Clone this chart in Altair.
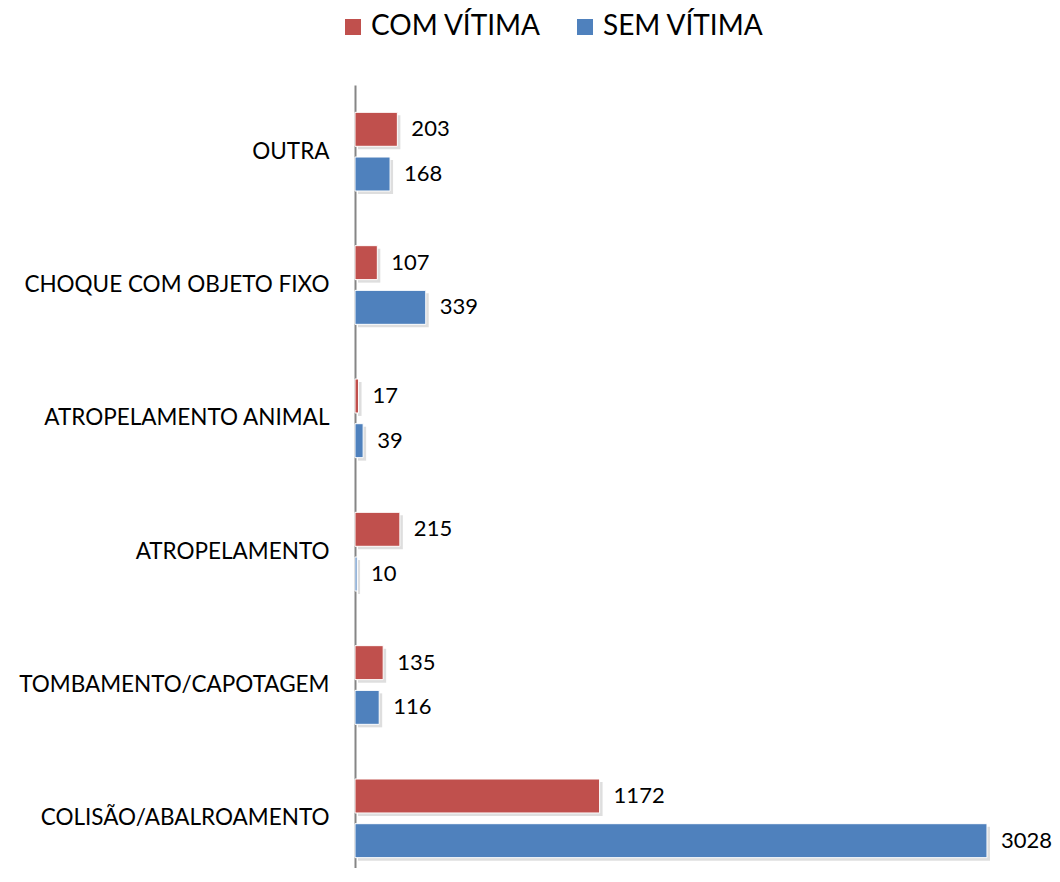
import altair as alt
import pandas as pd

categories = ["OUTRA", "CHOQUE COM OBJETO FIXO", "ATROPELAMENTO ANIMAL",
              "ATROPELAMENTO", "TOMBAMENTO/CAPOTAGEM", "COLISÃO/ABALROAMENTO"]
series = ["COM VÍTIMA", "SEM VÍTIMA"]
com_vitima = [203, 107, 17, 215, 135, 1172]
sem_vitima = [168, 339, 39, 10, 116, 3028]
colors = ["#C0504D", "#4F81BD"]

rows = []
for c, a, b in zip(categories, com_vitima, sem_vitima):
    rows.append({"cat": c, "serie": series[0], "valor": a})
    rows.append({"cat": c, "serie": series[1], "valor": b})
df = pd.DataFrame(rows)

FONT = "Lato"
W, H = 647, 783
BAND = 800 / 6 * 0.59

y_enc = alt.Y("cat:N", sort=categories,
              scale=alt.Scale(range=[0, 800], paddingInner=0.41, paddingOuter=0.205),
              axis=alt.Axis(title=None, ticks=False, labelPadding=26, labelFont=FONT,
                            labelFontSize=22.5, labelColor="#000000", domainColor="#868686",
                            domainWidth=2, labelLimit=400))
yoff_enc = alt.YOffset("serie:N", sort=series,
                       scale=alt.Scale(type="band", paddingInner=0.24, paddingOuter=0))
yoff_shadow = alt.YOffset("serie:N", sort=series,
                          scale=alt.Scale(type="band", paddingInner=0.24, paddingOuter=0,
                                          range=[3, BAND + 3]))
x_enc = alt.X("valor:Q", scale=alt.Scale(domain=[0, 3100]), axis=None)

base = alt.Chart(df)

shadow = base.mark_bar(color="#000000", opacity=0.13, xOffset=3).encode(
    x=x_enc, y=y_enc, yOffset=yoff_shadow)

bars = base.mark_bar(stroke="#ffffff", strokeWidth=1).encode(
    x=x_enc, y=y_enc, yOffset=yoff_enc,
    color=alt.Color("serie:N", sort=series,
                    scale=alt.Scale(domain=series, range=colors),
                    legend=alt.Legend(title=None, orient="none", direction="horizontal",
                                      legendX=-16, legendY=-72, symbolType="square",
                                      symbolSize=256, symbolStrokeWidth=0,
                                      labelFont=FONT, labelFontSize=28,
                                      labelColor="#000000", labelOffset=4,
                                      columnPadding=29, labelLimit=400)))

labels = base.mark_text(align="left", baseline="middle", dx=14, font=FONT,
                        fontSize=22, color="#000000").encode(
    x=x_enc, y=y_enc, yOffset=yoff_enc, text="valor:Q")

front = alt.layer(bars, labels)

chart = alt.layer(shadow, front).resolve_scale(yOffset="independent").properties(
    width=W, height=H,
    background="#ffffff",
    autosize=alt.AutoSizeParams(type="none"),
    padding={"left": 347, "top": 77, "right": 1044 - 347 - W, "bottom": 0},
).configure_view(stroke=None)

chart.save("out.html", embed_options={"renderer": "svg", "actions": False})
